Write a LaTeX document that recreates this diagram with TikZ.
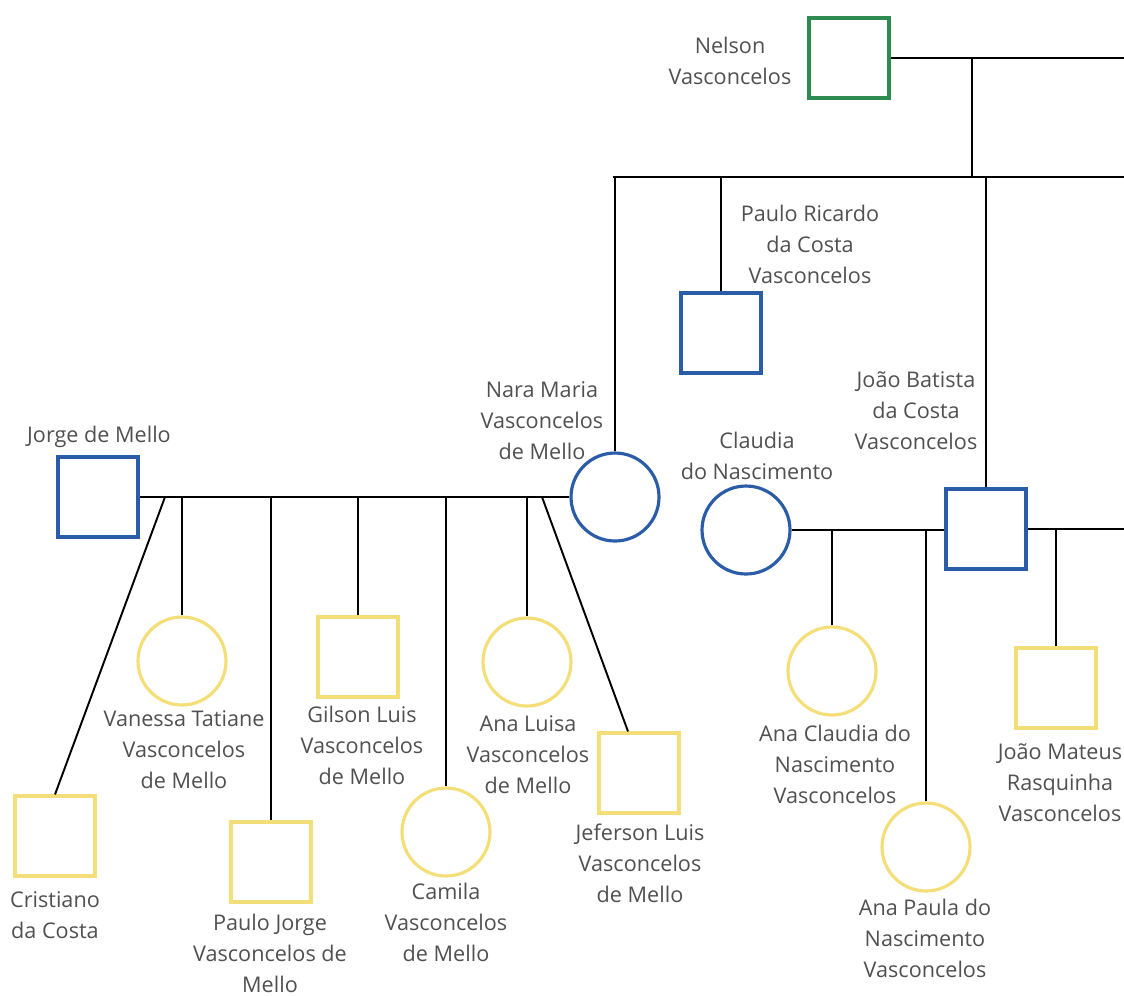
\documentclass[tikz,border=0pt]{standalone}
\usepackage{fontspec}
\setmainfont{Open Sans}
\usepackage{xcolor}
\definecolor{MaleBlue}{HTML}{2A5CA8}
\definecolor{RootGreen}{HTML}{2E8B4F}
\definecolor{KidYellow}{HTML}{F4DE78}
\definecolor{LabelGray}{HTML}{505050}
\usepackage{tikz}
\usetikzlibrary{positioning, calc}
\tikzset{
  male/.style={rectangle, draw=MaleBlue, line width=1.8pt, fill=white, minimum size=1.6cm, inner sep=0pt},
  female/.style={circle, draw=MaleBlue, line width=1.8pt, fill=white, minimum size=1.76cm, inner sep=0pt},
  root/.style={male, draw=RootGreen},
  sonbox/.style={male, draw=KidYellow},
  daughter/.style={female, draw=KidYellow},
  namelabel/.style={align=center, text=LabelGray, inner sep=0pt, font=\fontsize{12.3}{17.6}\selectfont},
  tie/.style={line width=1.1pt, black}
}

\begin{document}
\begin{tikzpicture}[x=0.02cm, y=-0.02cm]
  \useasboundingbox (0,0) rectangle (1124,995);

  % first generation
  \node[root] (nelson) at (849,58) {};
  \node[namelabel] (lblNelson) at (730,61) {Nelson\\Vasconcelos};
  \coordinate (nelsonEdge) at (1124,58);
  \coordinate (nelsonDrop) at (972,58);
  \coordinate (sibL) at (613,177);
  \coordinate (sibR) at (1124,177);

  % second generation
  \node[male] (pauloR) at (721,333) {};
  \node[namelabel] (lblPauloR) at (810,244) {Paulo Ricardo\\da Costa\\Vasconcelos};
  \node[female] (nara) at (615,497) {};
  \node[namelabel] (lblNara) at (542,421) {Nara Maria\\Vasconcelos\\de Mello};
  \node[male] (joaoB) at (986,529) {};
  \node[namelabel] (lblJoaoB) at (916,411) {João Batista\\da Costa\\Vasconcelos};
  \node[female] (claudia) at (746,530) {};
  \node[namelabel] (lblClaudia) at (757,456) {Claudia\\do Nascimento};
  \node[male] (jorge) at (98,497) {};
  \node[namelabel] (lblJorge) at (99,437) {Jorge de Mello};
  \coordinate (joaoEdge) at (1124,529);

  % third generation, Jorge & Nara
  \node[sonbox] (cristiano) at (55,836) {};
  \node[namelabel] (lblCristiano) at (55,915) {Cristiano\\da Costa};
  \node[daughter] (vanessa) at (182,661) {};
  \node[namelabel] (lblVanessa) at (184,750) {Vanessa Tatiane\\Vasconcelos\\de Mello};
  \node[sonbox] (pauloJ) at (271,862) {};
  \node[namelabel] (lblPauloJ) at (270,953) {Paulo Jorge\\Vasconcelos de\\Mello};
  \node[sonbox] (gilson) at (358,657) {};
  \node[namelabel] (lblGilson) at (362,745) {Gilson Luis\\Vasconcelos\\de Mello};
  \node[daughter] (camila) at (446,832) {};
  \node[namelabel] (lblCamila) at (446,922) {Camila\\Vasconcelos\\de Mello};
  \node[daughter] (anaLuisa) at (527,662) {};
  \node[namelabel] (lblAnaLuisa) at (528,755) {Ana Luisa\\Vasconcelos\\de Mello};
  \node[sonbox] (jeferson) at (639,773) {};
  \node[namelabel] (lblJeferson) at (640,863) {Jeferson Luis\\Vasconcelos\\de Mello};
  \coordinate (cristianoDrop) at (165,497);
  \coordinate (jefersonDrop) at (542,497);

  % third generation, João & Claudia
  \node[daughter] (anaClaudia) at (832,671) {};
  \node[namelabel] (lblAnaClaudia) at (835,764) {Ana Claudia do\\Nascimento\\Vasconcelos};
  \node[daughter] (anaPaula) at (926,847) {};
  \node[namelabel] (lblAnaPaula) at (925,938) {Ana Paula do\\Nascimento\\Vasconcelos};
  \node[sonbox] (joaoM) at (1056,688) {};
  \node[namelabel] (lblJoaoM) at (1060,783) {João Mateus\\Rasquinha\\Vasconcelos};

  % connectors
  \draw[tie] (nelson.east) -- (nelsonEdge);
  \draw[tie] (nelsonDrop) -- (nelsonDrop |- sibL);
  \draw[tie] (sibL) -- (sibR);
  \draw[tie] (nara.north) -- (nara.north |- sibL);
  \draw[tie] (pauloR.north) -- (pauloR.north |- sibL);
  \draw[tie] (joaoB.north) -- (joaoB.north |- sibL);

  \draw[tie] (jorge.east) -- (nara.west);
  \draw[tie] (cristianoDrop) -- (cristiano.north);
  \draw[tie] (vanessa.north) -- (vanessa.north |- jorge.east);
  \draw[tie] (pauloJ.north) -- (pauloJ.north |- jorge.east);
  \draw[tie] (gilson.north) -- (gilson.north |- jorge.east);
  \draw[tie] (camila.north) -- (camila.north |- jorge.east);
  \draw[tie] (anaLuisa.north) -- (anaLuisa.north |- jorge.east);
  \draw[tie] (jefersonDrop) -- ($(jeferson.north)+(-11,0)$);

  \draw[tie] (claudia.east) -- (joaoB.west |- claudia.east);
  \draw[tie] (anaClaudia.north) -- (anaClaudia.north |- claudia.east);
  \draw[tie] (anaPaula.north) -- (anaPaula.north |- claudia.east);
  \draw[tie] (joaoB.east) -- (joaoEdge);
  \draw[tie] (joaoM.north) -- (joaoM.north |- joaoEdge);
\end{tikzpicture}
\end{document}
